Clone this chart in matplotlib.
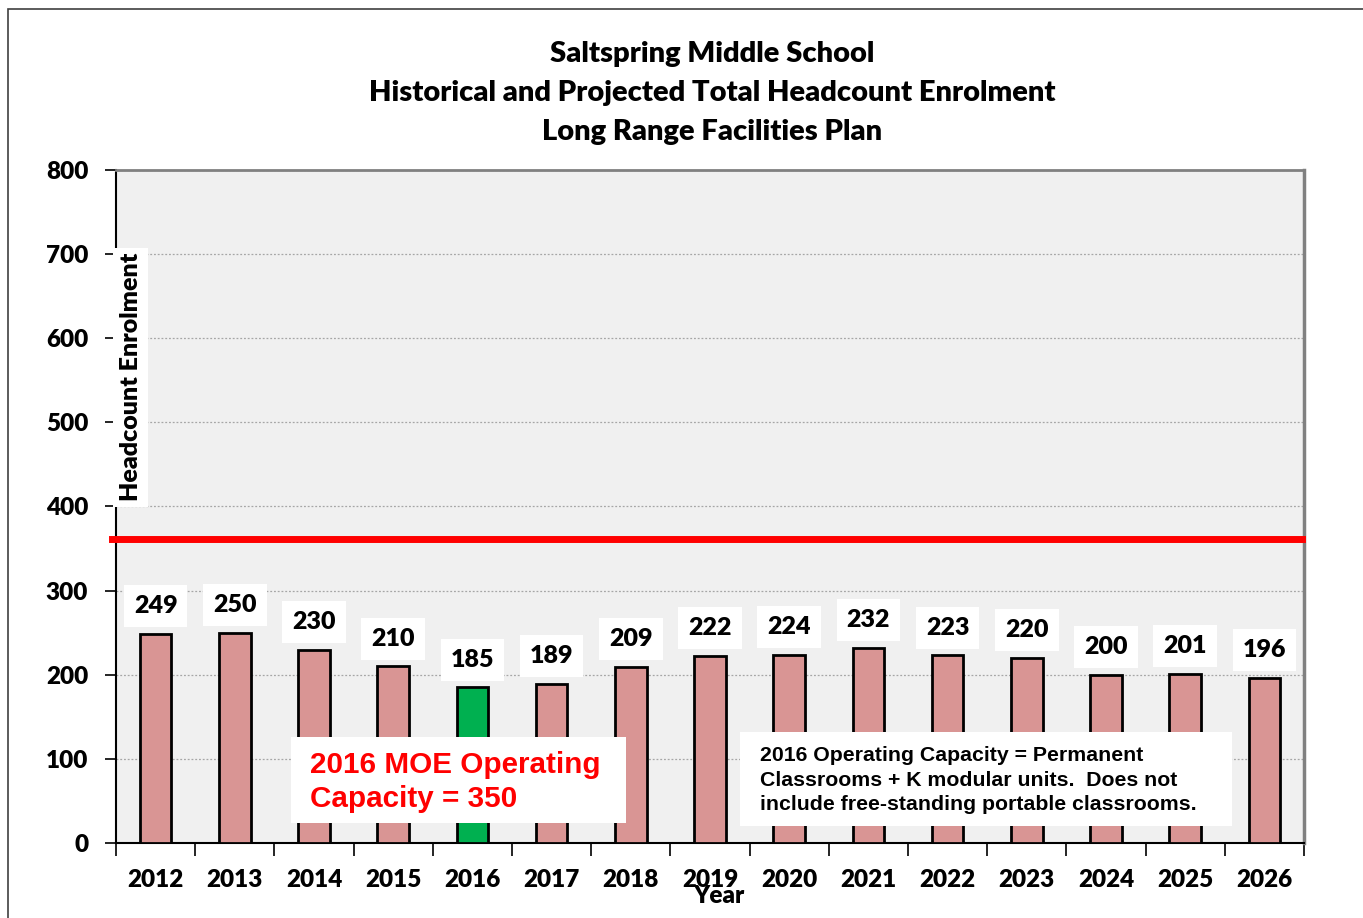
import matplotlib
matplotlib.use("Agg")
import matplotlib.pyplot as plt
from matplotlib.patches import Rectangle
import numpy as np

years = ["2012", "2013", "2014", "2015", "2016", "2017", "2018", "2019",
         "2020", "2021", "2022", "2023", "2024", "2025", "2026"]
enrolment = [249, 250, 230, 210, 185, 189, 209, 222, 224, 232, 223, 220, 200, 201, 196]
highlight_year = "2016"
capacity_line = 361
yticks = [0, 100, 200, 300, 400, 500, 600, 700, 800]
title_lines = ["Saltspring Middle School",
               "Historical and Projected Total Headcount Enrolment",
               "Long Range Facilities Plan"]
note_red = "2016 MOE Operating\nCapacity = 350"
note_black = ("2016 Operating Capacity = Permanent\n"
              "Classrooms + K modular units.  Does not\n"
              "include free-standing portable classrooms.")

FW = "heavy"
W, H = 1363, 918
fig = plt.figure(figsize=(W / 100, H / 100), dpi=100)
fig.patch.set_facecolor("white")

# outer chart border
fig.patches.append(Rectangle((8 / W, -0.05), 1.1, 1 - 9 / H + 0.05,
                             transform=fig.transFigure, fill=False,
                             edgecolor="#404040", lw=1.2))

ax = fig.add_axes([116 / W, 1 - 843 / H, (1304 - 116) / W, (843 - 170) / H])
ax.set_facecolor("#f0f0f0")

x = np.arange(len(years))
colors = ["#00b050" if y == highlight_year else "#d99594" for y in years]
bars = ax.bar(x, enrolment, width=0.40, color=colors, edgecolor="black",
              linewidth=2.0, zorder=3)

ax.set_xlim(-0.5, len(years) - 0.5)
ax.set_ylim(0, 800)
ax.set_yticks(yticks)
ax.set_yticklabels([str(v) for v in yticks], fontfamily="Lato",
                   fontweight=FW, fontsize=17.5)
ax.set_xticks(x)
ax.set_xticklabels(years, fontfamily="Lato", fontweight=FW, fontsize=17.5)
ax.set_xticks(np.arange(-0.5, len(years)), minor=True)
ax.tick_params(axis="x", which="major", length=0, pad=18.5)
ax.tick_params(axis="x", which="minor", length=9, width=1.2, color="black")
ax.tick_params(axis="y", which="major", length=8, width=1.2, pad=12)

ax.grid(axis="y", linestyle=(0, (1.5, 1.5)), color="#a6a6a6", lw=0.9, zorder=0)
ax.set_axisbelow(True)

for s in ["top", "right"]:
    ax.spines[s].set_color("#808080")
ax.spines["top"].set_linewidth(2)
ax.spines["right"].set_linewidth(2.5)
ax.spines["left"].set_color("black")
ax.spines["left"].set_linewidth(1.5)
ax.spines["bottom"].set_color("black")
ax.spines["bottom"].set_linewidth(1.5)

# capacity line
ax.axhline(capacity_line, xmin=-0.003, xmax=0.998, color="#ff0000", lw=5,
           zorder=4, clip_on=False)

# value labels
for xi, v in zip(x, enrolment):
    ax.annotate(str(v), (xi, v), xytext=(0, 20), textcoords="offset points",
                ha="center", va="center", fontfamily="Lato", fontweight=FW,
                fontsize=18, zorder=6,
                bbox=dict(boxstyle="square,pad=0.4", fc="white", ec="none"))

# titles
for i, t in enumerate(title_lines):
    fig.text(712 / W, 1 - (54 + 39 * i) / H, t, ha="center", va="center",
             fontfamily="Lato", fontweight=FW, fontsize=21)

# y label box
fig.patches.append(Rectangle((113 / W, 1 - 507 / H), 35 / W, 259 / H,
                             transform=fig.transFigure, facecolor="white",
                             edgecolor="none", zorder=5))
fig.text(131 / W, 1 - 377 / H, "Headcount Enrolment", rotation=90,
         ha="center", va="center", fontfamily="Lato", fontweight=FW,
         fontsize=18, zorder=6)

# x label
fig.text(719 / W, 1 - 896 / H, "Year", ha="center", va="center",
         fontfamily="Lato", fontweight=FW, fontsize=17.5)

# red note
fig.patches.append(Rectangle((291 / W, 1 - 823 / H), 335 / W, 86 / H,
                             transform=fig.transFigure, facecolor="white",
                             edgecolor="none", zorder=5))
fig.text(310 / W, 1 - 782 / H, note_red, ha="left", va="center",
         fontfamily="Liberation Sans", fontweight="bold", fontsize=21.3,
         color="#ff0000", linespacing=1.27, zorder=6)

# black note
fig.patches.append(Rectangle((740 / W, 1 - 826 / H), 492 / W, 94 / H,
                             transform=fig.transFigure, facecolor="white",
                             edgecolor="none", zorder=5))
fig.text(760 / W, 1 - 780 / H, note_black, ha="left", va="center",
         fontfamily=["Liberation Sans Narrow", "Liberation Sans"],
         fontweight="bold", fontsize=15.3, color="black",
         linespacing=1.35, zorder=6)

fig.savefig("out.png", dpi=100)
